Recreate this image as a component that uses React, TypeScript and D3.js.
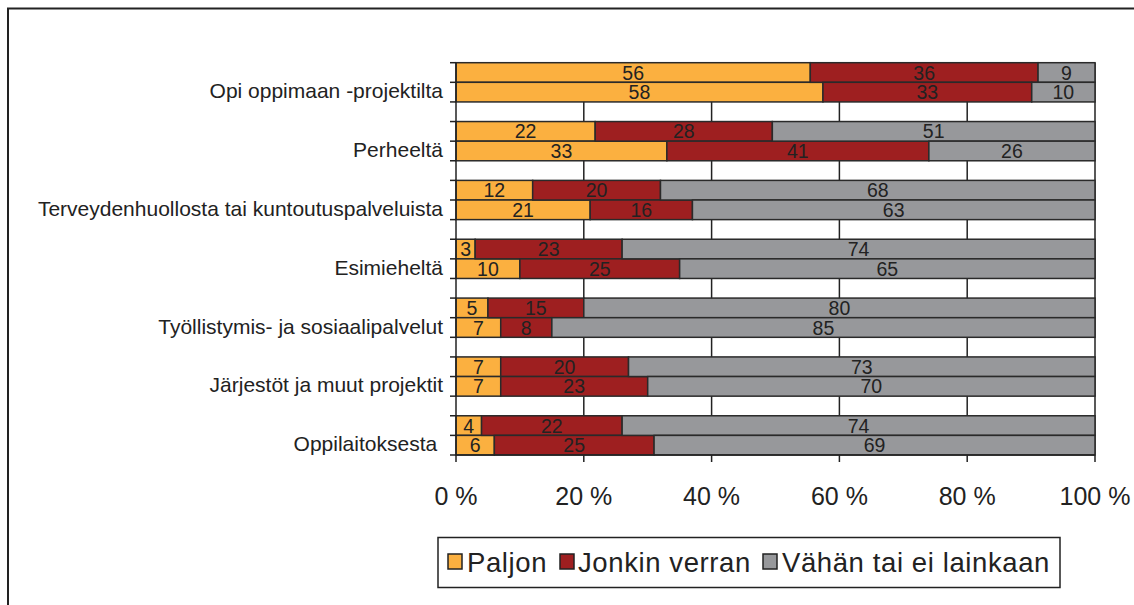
import React from "react";
import * as d3 from "d3";

const categories = [
  "Opi oppimaan -projektilta",
  "Perheeltä",
  "Terveydenhuollosta tai kuntoutuspalveluista",
  "Esimieheltä",
  "Työllistymis- ja sosiaalipalvelut",
  "Järjestöt ja muut projektit",
  "Oppilaitoksesta ",
];
const seriesNames = ["Paljon", "Jonkin verran", "Vähän tai ei lainkaan"];
const colors = ["#FBB040", "#9E1F20", "#97989B"];
// each category has two bars (upper, lower): [Paljon, Jonkin verran, Vähän tai ei lainkaan]
const upperBars = [
  [56, 36, 9],
  [22, 28, 51],
  [12, 20, 68],
  [3, 23, 74],
  [5, 15, 80],
  [7, 20, 73],
  [4, 22, 74],
];
const lowerBars = [
  [58, 33, 10],
  [33, 41, 26],
  [21, 16, 63],
  [10, 25, 65],
  [7, 8, 85],
  [7, 23, 70],
  [6, 25, 69],
];
const xTicks = [0, 0.2, 0.4, 0.6, 0.8, 1];
const xTickLabels = ["0 %", "20 %", "40 %", "60 %", "80 %", "100 %"];

const W = 1134;
const H = 605;
const FONT = "'Liberation Sans', Arial, sans-serif";

export default function App() {
  const x = d3.scaleLinear().domain([0, 1]).range([456, 1095]);
  const nSlots = categories.length * 3 - 1;
  const y = d3.scaleLinear().domain([0, nSlots]).range([62.7, 455]);
  const slotH = y(1) - y(0);
  const top = y(0);
  const bottom = y(nSlots);

  const rows: { slot: number; vals: number[] }[] = [];
  categories.forEach((_, i) => {
    rows.push({ slot: i * 3, vals: upperBars[i] });
    rows.push({ slot: i * 3 + 1, vals: lowerBars[i] });
  });

  const stack = d3
    .stack<number[]>()
    .keys([0, 1, 2] as any)
    .value((d: any, k: any) => d[k])
    .offset(d3.stackOffsetExpand);
  const stacked = stack(rows.map((r) => r.vals) as any);

  const legendItems = [
    { x: 448, tx: 467 },
    { x: 560, tx: 578 },
    { x: 763, tx: 782 },
  ];

  return (
    <svg
      width={W}
      height={H}
      style={{ position: "absolute", left: 0, top: 0, background: "#fff" }}
      fontFamily={FONT}
    >
      <rect x={0} y={0} width={W} height={H} fill="#fff" />
      <rect x={8} y={8.5} width={1140} height={620} fill="none" stroke="#222" strokeWidth={2} />

      {/* gridlines */}
      {xTicks.slice(1).map((t) => (
        <line key={"g" + t} x1={x(t)} x2={x(t)} y1={top} y2={bottom + 7} stroke="#222" strokeWidth={1.5} />
      ))}

      {/* bars */}
      {stacked.map((layer, si) =>
        layer.map((seg, ri) => {
          const r = rows[ri];
          return (
            <rect
              key={`b${si}-${ri}`}
              x={x(seg[0])}
              y={y(r.slot)}
              width={x(seg[1]) - x(seg[0])}
              height={slotH}
              fill={colors[si]}
              stroke="#2a2a2a"
              strokeWidth={1.5}
            />
          );
        })
      )}
      {/* bar labels */}
      {stacked.map((layer, si) =>
        layer.map((seg, ri) => {
          const r = rows[ri];
          return (
            <text
              key={`t${si}-${ri}`}
              x={(x(seg[0]) + x(seg[1])) / 2}
              y={y(r.slot) + slotH / 2 + 7}
              textAnchor="middle"
              fontSize={19.5}
              fill="#222"
            >
              {r.vals[si]}
            </text>
          );
        })
      )}

      {/* y axis */}
      <line x1={x(0)} x2={x(0)} y1={top} y2={bottom + 7} stroke="#222" strokeWidth={1.5} />
      {d3.range(nSlots + 1).map((s) => (
        <line key={"yt" + s} x1={x(0) - 6} x2={x(0)} y1={y(s)} y2={y(s)} stroke="#222" strokeWidth={1.5} />
      ))}
      {/* x axis */}
      <line x1={x(0)} x2={x(1)} y1={bottom} y2={bottom} stroke="#222" strokeWidth={1.5} />
      {xTicks.map((t, i) => (
        <text key={"xl" + t} x={x(t)} y={505} textAnchor="middle" fontSize={25} fill="#222">
          {xTickLabels[i]}
        </text>
      ))}

      {/* category labels */}
      {categories.map((c, i) => (
        <text
          key={"c" + i}
          x={443}
          y={y(i * 3) + slotH * 1.45 + 7}
          textAnchor="end"
          fontSize={21}
          fill="#222"
          style={{ whiteSpace: "pre" }}
        >
          {c}
        </text>
      ))}

      {/* legend */}
      <rect x={438} y={537.5} width={622} height={50} fill="#fff" stroke="#222" strokeWidth={1.5} />
      {seriesNames.map((n, i) => (
        <g key={"l" + i}>
          <rect x={legendItems[i].x} y={554} width={14} height={15} fill={colors[i]} stroke="#222" strokeWidth={1.5} />
          <text x={legendItems[i].tx} y={572} fontSize={27.5} letterSpacing={0.6} fill="#222">
            {n}
          </text>
        </g>
      ))}
    </svg>
  );
}
